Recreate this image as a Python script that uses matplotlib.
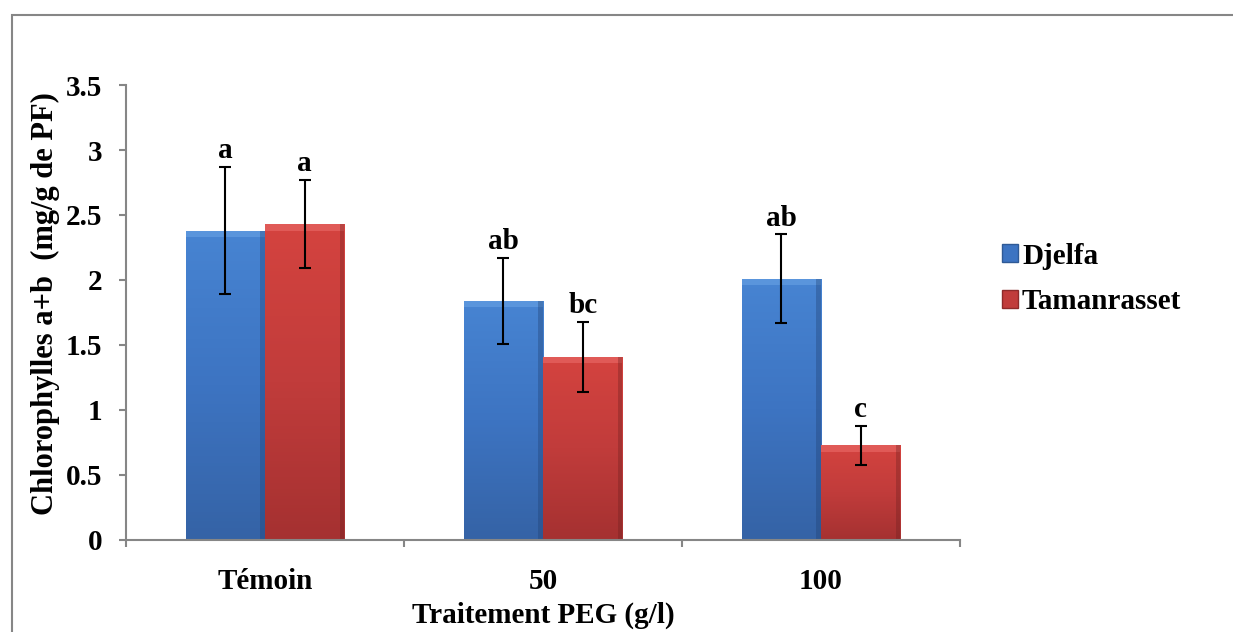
import numpy as np
import matplotlib
matplotlib.use("Agg")
import matplotlib.pyplot as plt
from matplotlib.patches import Rectangle
from matplotlib.colors import LinearSegmentedColormap

# -------------------- données --------------------
categories = ["Témoin", "50", "100"]
series = ["Djelfa", "Tamanrasset"]
djelfa = [2.38, 1.84, 2.01]
djelfa_err = [0.49, 0.33, 0.34]
taman = [2.43, 1.41, 0.73]
taman_err = [0.34, 0.27, 0.15]
letters_djelfa = ["a", "ab", "ab"]
letters_taman = ["a", "bc", "c"]

plt.rcParams["font.family"] = ["Liberation Serif", "DejaVu Serif"]
plt.rcParams["font.weight"] = "bold"

FS = 21
GRAY = "#868686"

fig = plt.figure(figsize=(12.33, 6.32), dpi=100)
ax = fig.add_axes([0.1022, 0.1456, 0.6764, 0.7199])

# cadre gris autour du graphique
fig.patches.append(Rectangle((12 / 1233, -0.1), 1.2, 1 - 15 / 632 + 0.1,
                             transform=fig.transFigure, fill=False,
                             edgecolor=GRAY, linewidth=1.5))

x = np.arange(len(categories))
w = 1 / 3.5  # largeur des barres (écart 150 %)

blue_cmap = LinearSegmentedColormap.from_list("b", ["#3563a6", "#3d74c2", "#4784d2"])
red_cmap = LinearSegmentedColormap.from_list("r", ["#a53131", "#c13c3b", "#d4433f"])


def shade(bars, cmap, top_col, edge_col):
    """remplissage en dégradé + petit biseau clair en haut"""
    grad = np.linspace(0, 1, 100).reshape(-1, 1)
    for b in bars:
        x0, y0 = b.get_x(), b.get_y()
        bw, bh = b.get_width(), b.get_height()
        im = ax.imshow(grad, cmap=cmap, aspect="auto", origin="lower",
                       extent=[x0, x0 + bw, y0, y0 + bh], zorder=2)
        im.set_clip_path(b)
        ax.add_patch(Rectangle((x0, y0 + bh - 0.05), bw, 0.05,
                               facecolor=top_col, edgecolor="none", zorder=2.1))
        ax.add_patch(Rectangle((x0 + bw * 0.94, y0), bw * 0.06, bh,
                               facecolor=edge_col, edgecolor="none",
                               alpha=0.35, zorder=2.1))


b1 = ax.bar(x - w / 2, djelfa, w, color="#3d74c2", edgecolor="#2f5a96",
            linewidth=0.6, zorder=2, label=series[0])
b2 = ax.bar(x + w / 2, taman, w, color="#c13c3b", edgecolor="#8e2a2a",
            linewidth=0.6, zorder=2, label=series[1])
shade(b1, blue_cmap, "#5a95dc", "#1f3f70")
shade(b2, red_cmap, "#e05a57", "#6e1f1f")

ax.errorbar(x - w / 2, djelfa, yerr=djelfa_err, fmt="none", ecolor="black",
            elinewidth=1.5, capsize=4.5, capthick=1.5, zorder=4)
ax.errorbar(x + w / 2, taman, yerr=taman_err, fmt="none", ecolor="black",
            elinewidth=1.5, capsize=4.5, capthick=1.5, zorder=4)

for i in range(len(categories)):
    ax.text(x[i] - w / 2, djelfa[i] + djelfa_err[i] + 0.02, letters_djelfa[i],
            ha="center", va="bottom", fontsize=FS, fontweight="bold")
    ax.text(x[i] + w / 2, taman[i] + taman_err[i] + 0.02, letters_taman[i],
            ha="center", va="bottom", fontsize=FS, fontweight="bold")

ax.set_xlim(-0.5, len(categories) - 0.5)
ax.set_ylim(0, 3.5)
ax.set_yticks(np.arange(0, 3.51, 0.5))
ax.set_yticklabels(["0", "0.5", "1", "1.5", "2", "2.5", "3", "3.5"])
ax.set_xticks(x)
ax.set_xticklabels(categories)
ax.set_xticks(np.arange(-0.5, len(categories), 1), minor=True)

for s in ["top", "right"]:
    ax.spines[s].set_visible(False)
for s in ["left", "bottom"]:
    ax.spines[s].set_color(GRAY)
    ax.spines[s].set_linewidth(1.5)

ax.tick_params(axis="y", direction="out", length=5, width=1.5, color=GRAY,
               labelsize=FS, pad=12)
ax.tick_params(axis="x", which="major", length=0, labelsize=FS, pad=20)
ax.tick_params(axis="x", which="minor", direction="out", length=5, width=1.5,
               color=GRAY)
for lab in ax.get_xticklabels() + ax.get_yticklabels():
    lab.set_fontweight("bold")

ax.set_xlabel("Traitement PEG (g/l)", fontsize=FS, fontweight="bold", labelpad=5)
ax.set_ylabel("Chlorophylles a+b  (mg/g de PF)", fontsize=FS + 1,
              fontweight="bold")
ax.yaxis.set_label_coords(-0.079, 0.52)

handles = [Rectangle((0, 0), 1, 1, facecolor="#3d74c2", edgecolor="#2f5a96"),
           Rectangle((0, 0), 1, 1, facecolor="#c13c3b", edgecolor="#8e2a2a")]
fig.legend(handles, series, loc="center left",
           bbox_to_anchor=(0.791, 1 - 279 / 632), frameon=False,
           prop={"size": FS, "weight": "bold"}, handlelength=0.55,
           handleheight=0.55, handletextpad=0.15, labelspacing=0.65)

fig.savefig("out.png", dpi=100)
